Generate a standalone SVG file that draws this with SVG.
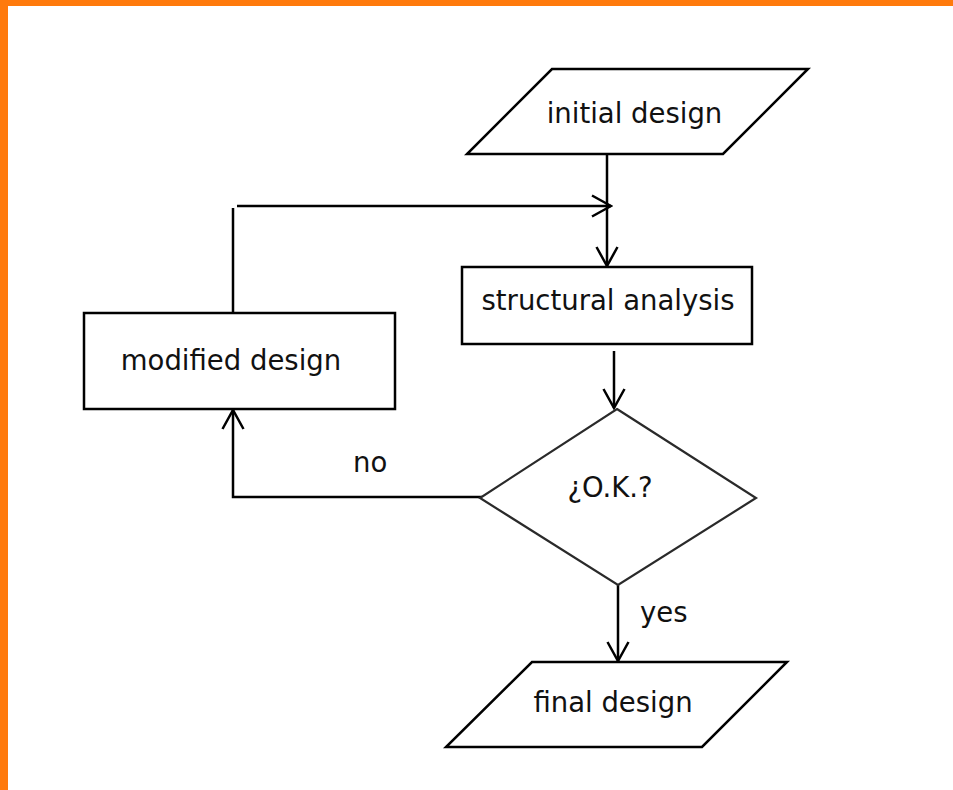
<svg xmlns="http://www.w3.org/2000/svg" width="953" height="790" viewBox="0 0 953 790">
  <style>
    .shape { fill: #ffffff; stroke: #000000; stroke-width: 2.5; }
    .decision { fill: #ffffff; stroke: #2a2a2a; stroke-width: 2.2; }
    .label { font-family: "DejaVu Sans", Verdana, sans-serif; font-size: 27.5px; fill: #111111; }
    .mid { text-anchor: middle; }
    .link { fill: none; stroke: #000000; stroke-width: 2.5; }
  </style>
  <defs>
    <marker id="open-arrow" markerUnits="userSpaceOnUse" viewBox="0 0 22 24" refX="20" refY="12" markerWidth="22" markerHeight="24" orient="auto">
      <path d="M1,1.5 L20,12 L1,22.5" fill="none" stroke="#000000" stroke-width="2.5"/>
    </marker>
  </defs>

  <!-- page background and orange frame -->
  <rect x="0" y="0" width="953" height="790" fill="#ffffff"/>
  <rect x="0" y="0" width="953" height="6" fill="#ff7a0c"/>
  <rect x="0" y="0" width="8" height="790" fill="#ff7a0c"/>

  <!-- connectors -->
  <g id="connectors">
    <line class="link" x1="607" y1="154" x2="607" y2="266" marker-end="url(#open-arrow)"/>
    <line class="link" x1="233" y1="316" x2="233" y2="208"/>
    <line class="link" x1="237" y1="206" x2="611" y2="206" marker-end="url(#open-arrow)"/>
    <line class="link" x1="614" y1="351" x2="614" y2="408" marker-end="url(#open-arrow)"/>
    <polyline class="link" points="482,497 233,497 233,410" marker-end="url(#open-arrow)"/>
    <line class="link" x1="618" y1="585" x2="618" y2="661" marker-end="url(#open-arrow)"/>
  </g>

  <!-- nodes -->
  <g id="initial-design">
    <polygon class="shape" points="552,69 808,69 723,154 467,154"/>
    <text class="label mid" x="634.5" y="123">initial design</text>
  </g>

  <g id="structural-analysis">
    <rect class="shape" x="462" y="267" width="290" height="77"/>
    <text class="label mid" x="608" y="310">structural analysis</text>
  </g>

  <g id="modified-design">
    <rect class="shape" x="84" y="313" width="311" height="96"/>
    <text class="label mid" x="231" y="370">modified design</text>
  </g>

  <g id="ok-decision">
    <polygon class="decision" points="617,409 756,498 618,585 480,498"/>
    <text class="label mid" x="610" y="497">¿O.K.?</text>
  </g>

  <g id="final-design">
    <polygon class="shape" points="532,662 787,662 702,747 446,747"/>
    <text class="label mid" x="613" y="712">final design</text>
  </g>

  <!-- branch labels -->
  <g id="branch-labels">
    <text class="label" x="353" y="472">no</text>
    <text class="label" x="640" y="622">yes</text>
  </g>
</svg>
